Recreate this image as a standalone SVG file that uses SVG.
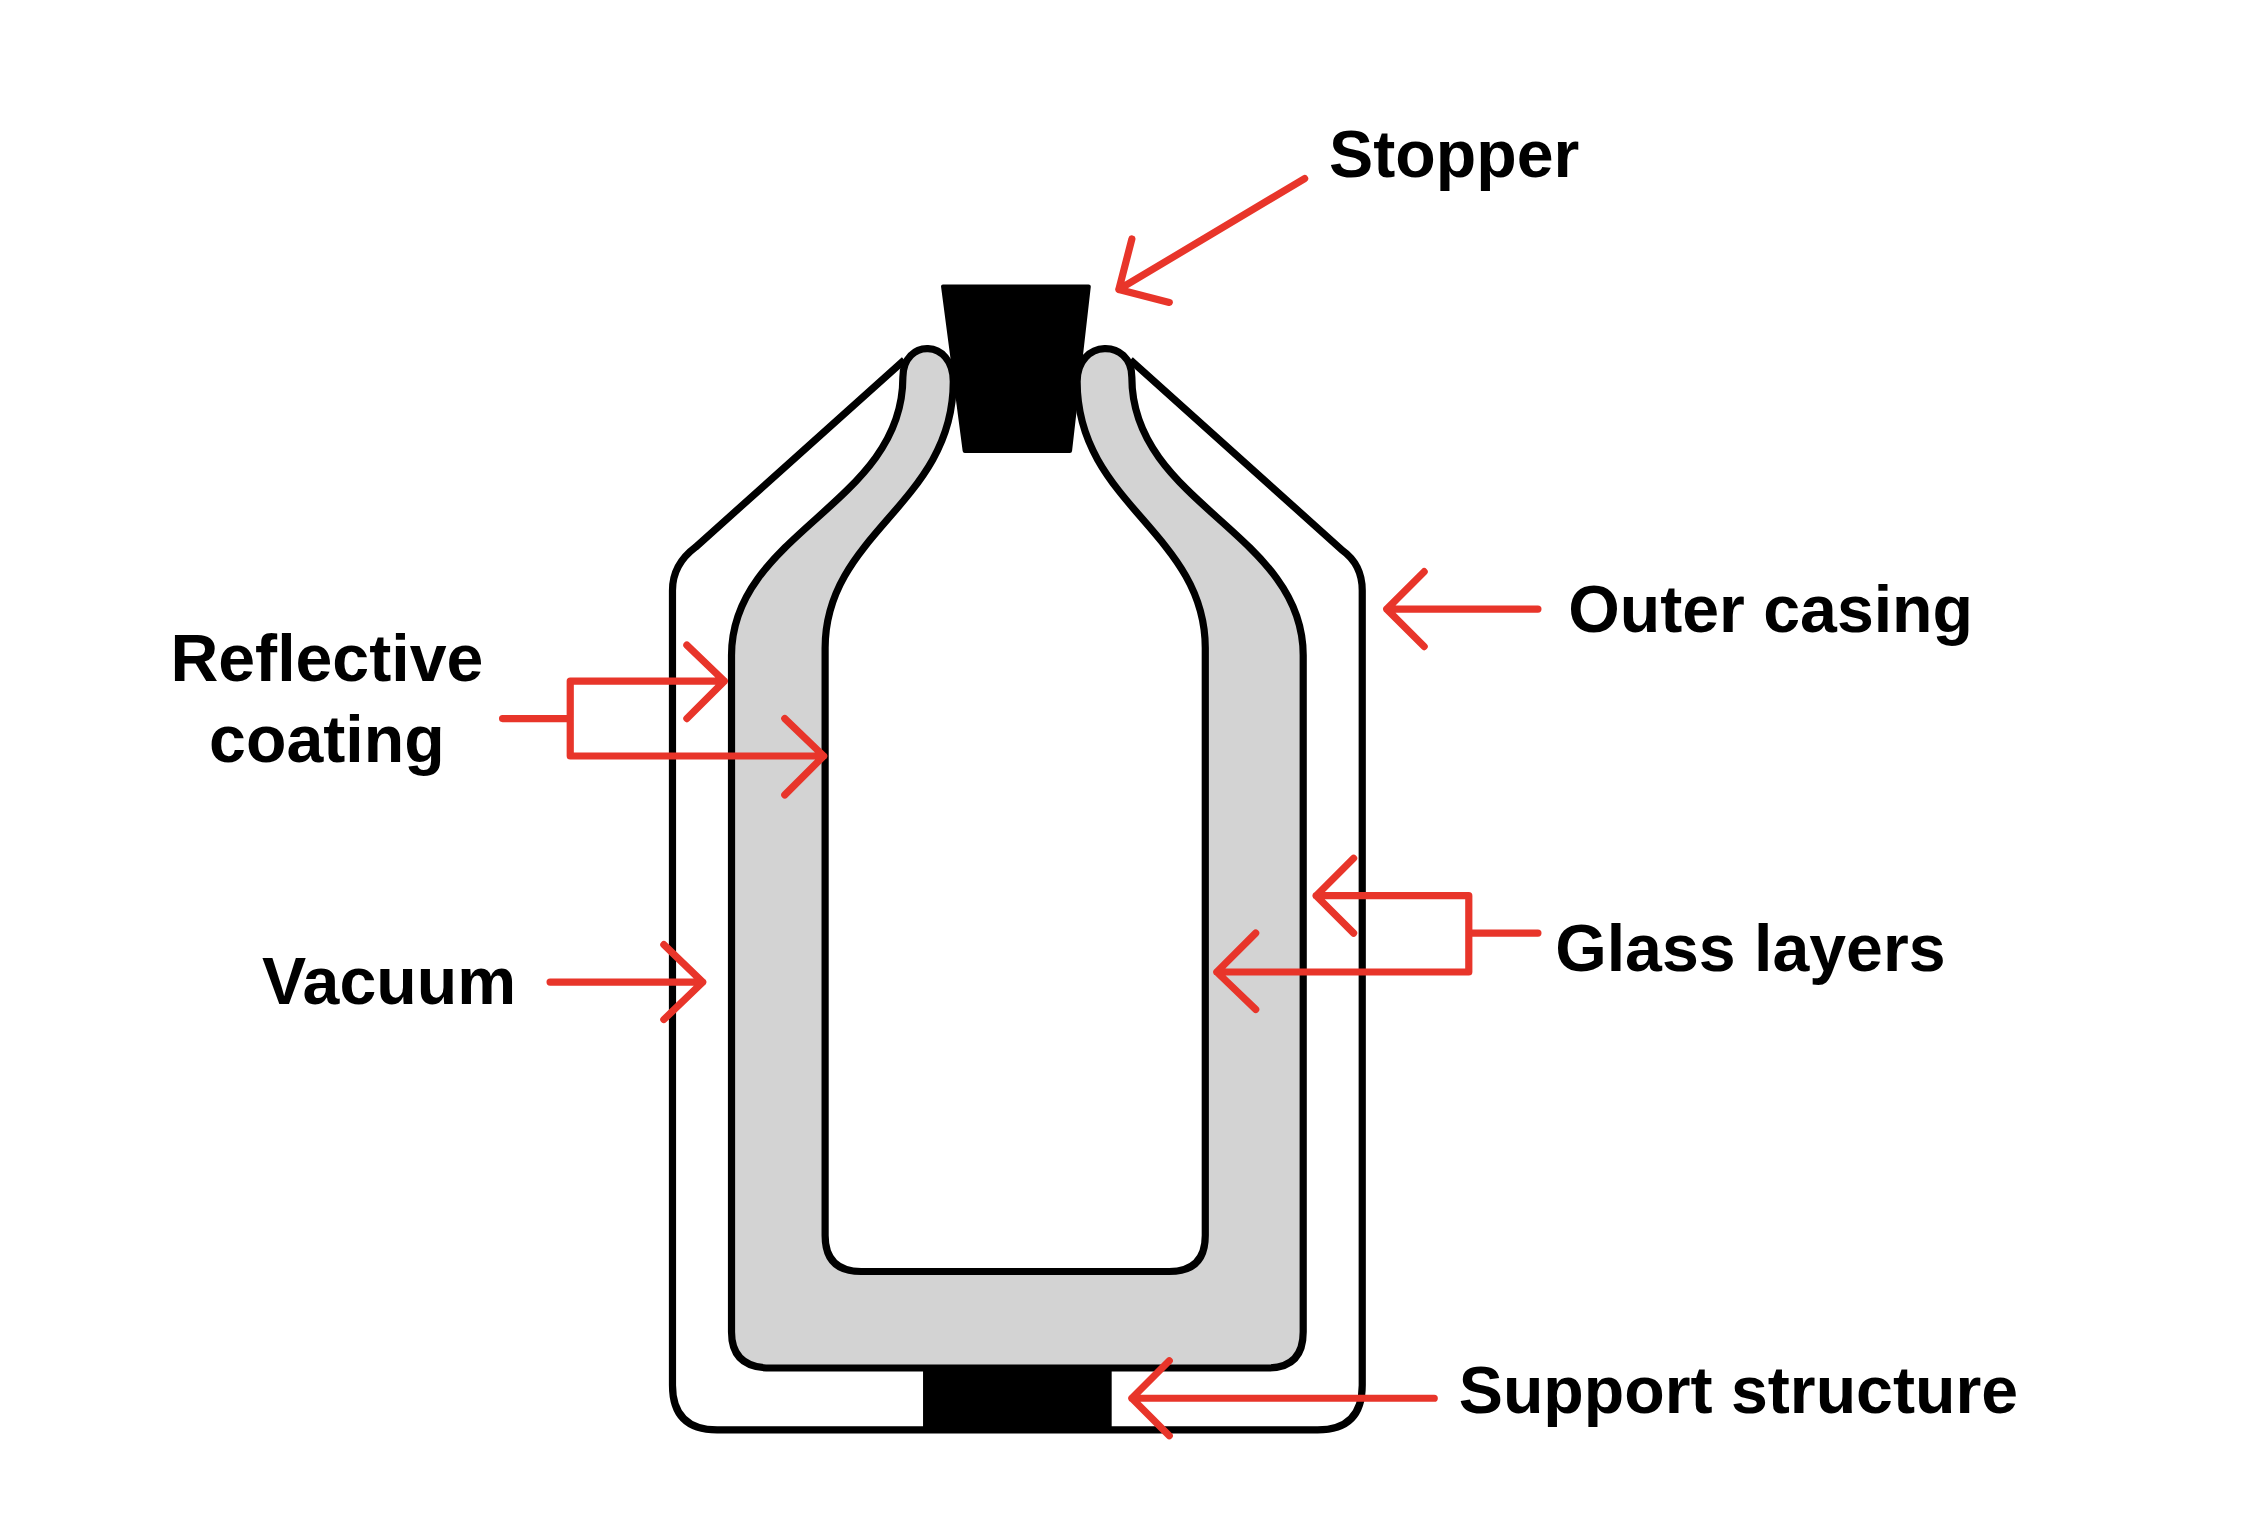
<svg xmlns="http://www.w3.org/2000/svg" width="2258" height="1540" viewBox="0 0 2258 1540">
<style>
.k{fill:none;stroke:#000;stroke-width:5;stroke-linejoin:round}
.g{fill:#d3d3d3;stroke:#000;stroke-width:5;stroke-linejoin:round}
.a{fill:none;stroke:#e8352a;stroke-width:5;stroke-linecap:round;stroke-linejoin:round}
.t{font-family:"Liberation Sans",Arial,sans-serif;font-weight:bold;font-size:46px;fill:#000}
</style>
<rect width="2258" height="1540" fill="#fff"/>
<g transform="scale(1.44)">
<g id="outer-casing"><path class="k" d="M628,250 L483,380 Q467,392 467,410 L467,962 Q467,993 498,993 L915,993 Q946,993 946,962 L946,410 Q946,392 932,382 L785,250"/></g>
<g id="stopper"><path d="M655,199 L756,199 L743,313 L670,313 Z" fill="#000" stroke="#000" stroke-width="3" stroke-linejoin="round"/></g>
<g id="glass"><path class="g" d="M627,262 C627,350 508,370 508,455 L508,925 Q508,950 535,950 L880,950 Q905,950 905,925 L905,455 C905,370 786,350 786,262 C786,235 748,235 748,265 C748,350 837,370 837,450 L837,858 Q837,883 812,883 L598,883 Q573,883 573,858 L573,450 C573,370 662,350 662,265 C662,235 627,235 627,262 Z"/></g>
<g id="support"><rect x="641" y="950" width="131" height="43" fill="#000"/></g>
<g id="connectors">
<path class="a" d="M906,124 L777,201 M786,166 L777,201 L812,210"/>
<path class="a" d="M1068,423 L963,423 M989,397 L963,423 L989,449"/>
<path class="a" d="M349,499 L396,499 M503,473 L396,473 L396,525 L572,525 M477,448 L503,473 L477,499 M545,499 L572,525 L545,552"/>
<path class="a" d="M382,682 L488,682 M461,656 L488,682 L461,708"/>
<path class="a" d="M1068,648 L1020,648 M914,622 L1020,622 L1020,675 L845,675 M940,596 L914,622 L940,648 M872,648 L845,675 L872,701"/>
<path class="a" d="M996,971 L786,971 M812,945 L786,971 L812,997"/>
</g>
<g id="labels">
<text class="t" x="923" y="123">Stopper</text>
<text class="t" x="1089" y="439">Outer casing</text>
<text class="t" x="227" y="473" text-anchor="middle">Reflective</text>
<text class="t" x="227" y="529" text-anchor="middle">coating</text>
<text class="t" x="182" y="697">Vacuum</text>
<text class="t" x="1080" y="674">Glass layers</text>
<text class="t" x="1013" y="981">Support structure</text>
</g>
</g>
</svg>
